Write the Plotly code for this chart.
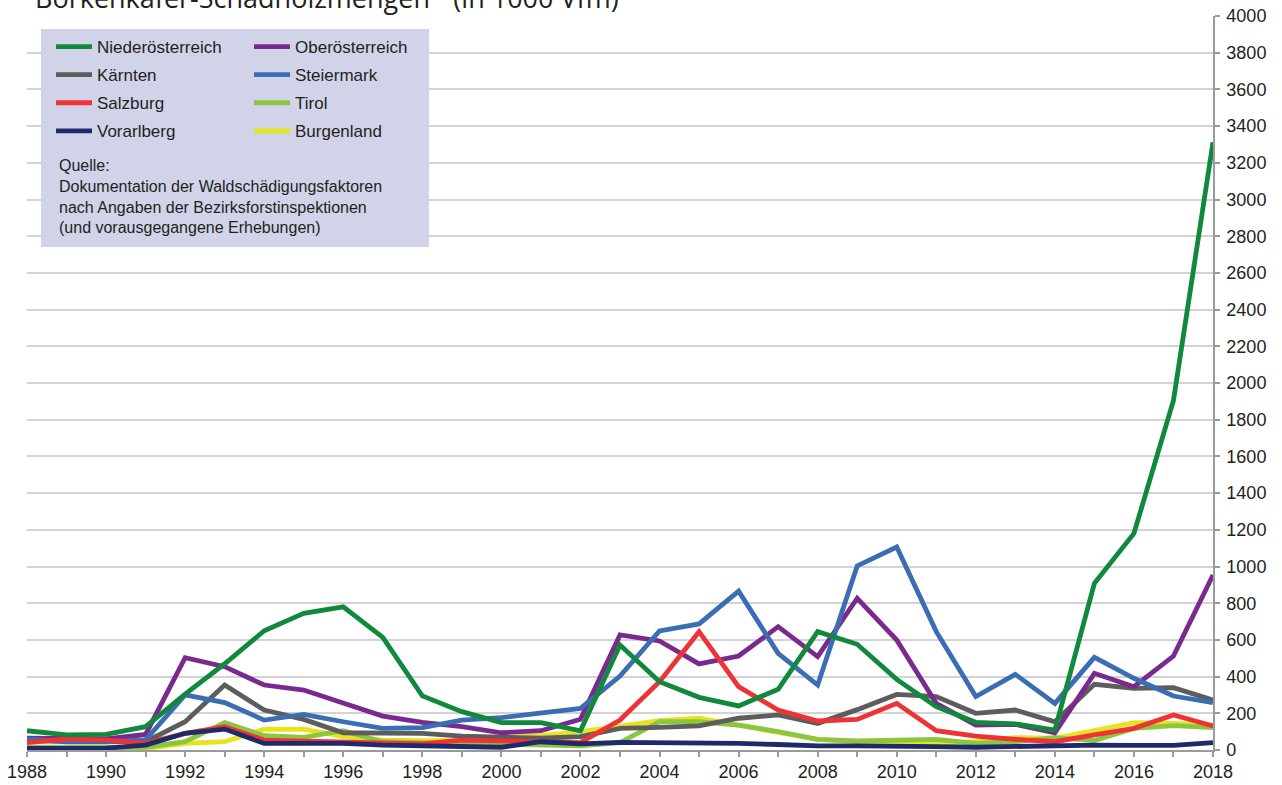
import plotly.graph_objects as go

years = list(range(1988, 2019))

niederoesterreich = [105, 82, 85, 127, 305, 470, 650, 745, 780, 614, 295, 209, 149, 149, 105, 572, 372, 287, 240, 331, 645, 576, 385, 236, 151, 142, 109, 908, 1180, 1905, 3312]
oberoesterreich = [65, 60, 60, 85, 503, 454, 354, 327, 258, 185, 151, 127, 94, 105, 167, 627, 594, 469, 512, 672, 509, 827, 599, 254, 136, 140, 94, 418, 345, 512, 954]
kaernten = [50, 50, 50, 45, 154, 354, 218, 167, 94, 94, 91, 76, 67, 64, 73, 118, 123, 131, 173, 191, 145, 220, 303, 291, 200, 218, 154, 358, 336, 340, 272]
steiermark = [60, 45, 45, 55, 300, 258, 163, 194, 154, 118, 122, 163, 176, 203, 227, 403, 649, 687, 866, 527, 354, 1003, 1106, 645, 291, 412, 254, 505, 391, 294, 258]
salzburg = [40, 60, 54, 36, 91, 127, 54, 49, 40, 33, 33, 54, 49, 49, 40, 163, 372, 645, 345, 218, 158, 167, 254, 105, 76, 58, 45, 82, 118, 191, 131]
tirol = [15, 15, 15, 15, 45, 149, 78, 69, 105, 45, 40, 36, 36, 27, 22, 40, 154, 154, 136, 100, 58, 49, 54, 58, 36, 45, 67, 51, 118, 133, 122]
vorarlberg = [9, 10, 10, 27, 91, 114, 36, 36, 36, 27, 22, 15, 15, 45, 33, 42, 42, 36, 36, 30, 22, 22, 22, 18, 15, 20, 25, 27, 25, 25, 40]
burgenland = [10, 10, 10, 8, 36, 45, 113, 113, 73, 54, 51, 54, 69, 78, 100, 133, 160, 173, 133, 94, 58, 45, 40, 36, 45, 67, 64, 109, 149, 145, 136]

x_tick_vals = years
x_tick_text = [str(y) if y % 2 == 0 else "" for y in years]
y_tick_vals = list(range(0, 4001, 200))

title_text = "Borkenkäfer-Schadholzmengen<sup>1)</sup> (in 1000 Vfm)"
source_text = ("Quelle:<br>Dokumentation der Waldschädigungsfaktoren<br>"
               "nach Angaben der Bezirksforstinspektionen<br>(und vorausgegangene Erhebungen)")

# (name, values, color, legend, rank) in drawing order
series = [
    ("Burgenland", burgenland, "#e6e41e", "legend2", 8),
    ("Tirol", tirol, "#8cc540", "legend2", 6),
    ("Kärnten", kaernten, "#5d5d5d", "legend", 3),
    ("Oberösterreich", oberoesterreich, "#7a2a8e", "legend2", 2),
    ("Steiermark", steiermark, "#3b6db5", "legend2", 4),
    ("Salzburg", salzburg, "#ef3235", "legend", 5),
    ("Niederösterreich", niederoesterreich, "#11893d", "legend", 1),
    ("Vorarlberg", vorarlberg, "#1e2a6a", "legend", 7),
]

fig = go.Figure()
for name, vals, color, leg, rank in series:
    fig.add_trace(go.Scatter(
        x=years, y=vals, mode="lines", name=name,
        line=dict(color=color, width=4.8),
        legend=leg, legendrank=rank, legendgroup=name,
    ))

W, H = 1282, 785
L, R, T, B = 27, 69, 16, 35
pw, ph = W - L - R, H - T - B

def px(xv):
    return (xv - L) / pw

def py(yv):
    return (H - B - yv) / ph

font_main = "Liberation Sans, Arial, sans-serif"
txt_color = "#231f20"

legend_common = dict(
    xanchor="left", yanchor="top", bgcolor="rgba(0,0,0,0)",
    font=dict(size=17, family=font_main, color=txt_color),
    tracegroupgap=3, orientation="v", itemwidth=36,
)

fig.update_layout(
    width=W, height=H,
    margin=dict(l=L, r=R, t=T, b=B, autoexpand=False),
    paper_bgcolor="white", plot_bgcolor="white",
    showlegend=True,
    legend=dict(x=px(51), y=py(29), **legend_common),
    legend2=dict(x=px(249), y=py(29), **legend_common),
    xaxis=dict(
        range=[1988, 2018], tickmode="array", tickvals=x_tick_vals, ticktext=x_tick_text,
        showgrid=False, zeroline=False, showline=True, linecolor="#9a9a9a", linewidth=1.5,
        ticks="outside", ticklen=5, tickcolor="#9a9a9a", tickwidth=1.5,
        tickfont=dict(size=18, family=font_main, color=txt_color),
        ticklabeloverflow="allow",
    ),
    yaxis=dict(
        range=[0, 4000], side="right", tickmode="array", tickvals=y_tick_vals,
        showgrid=True, gridcolor="#d3d3d3", gridwidth=1.5, zeroline=False,
        showline=True, linecolor="#9a9a9a", linewidth=1.5,
        ticks="outside", ticklen=5, tickcolor="#9a9a9a", tickwidth=1.5,
        tickfont=dict(size=18, family=font_main, color=txt_color),
        ticklabelstandoff=3, ticklabeloverflow="allow",
    ),
    shapes=[dict(
        type="rect", xref="paper", yref="paper",
        x0=px(41), x1=px(429), y0=py(247), y1=py(29),
        fillcolor="#d1d3e9", line=dict(width=0), layer="above",
    )],
    annotations=[
        dict(text=source_text, xref="paper", yref="paper", x=px(57), y=py(155),
             xanchor="left", yanchor="top", align="left", showarrow=False,
             font=dict(size=16, family=font_main, color=txt_color)),
        dict(text=title_text, xref="paper", yref="paper", x=px(33), y=py(-4),
             xanchor="left", yanchor="middle", align="left", showarrow=False,
             font=dict(size=27, family="Open Sans, sans-serif", color=txt_color)),
    ],
)

fig.write_html("out.html", config={"displayModeBar": False},
               post_script="document.body.style.margin='0px';")
